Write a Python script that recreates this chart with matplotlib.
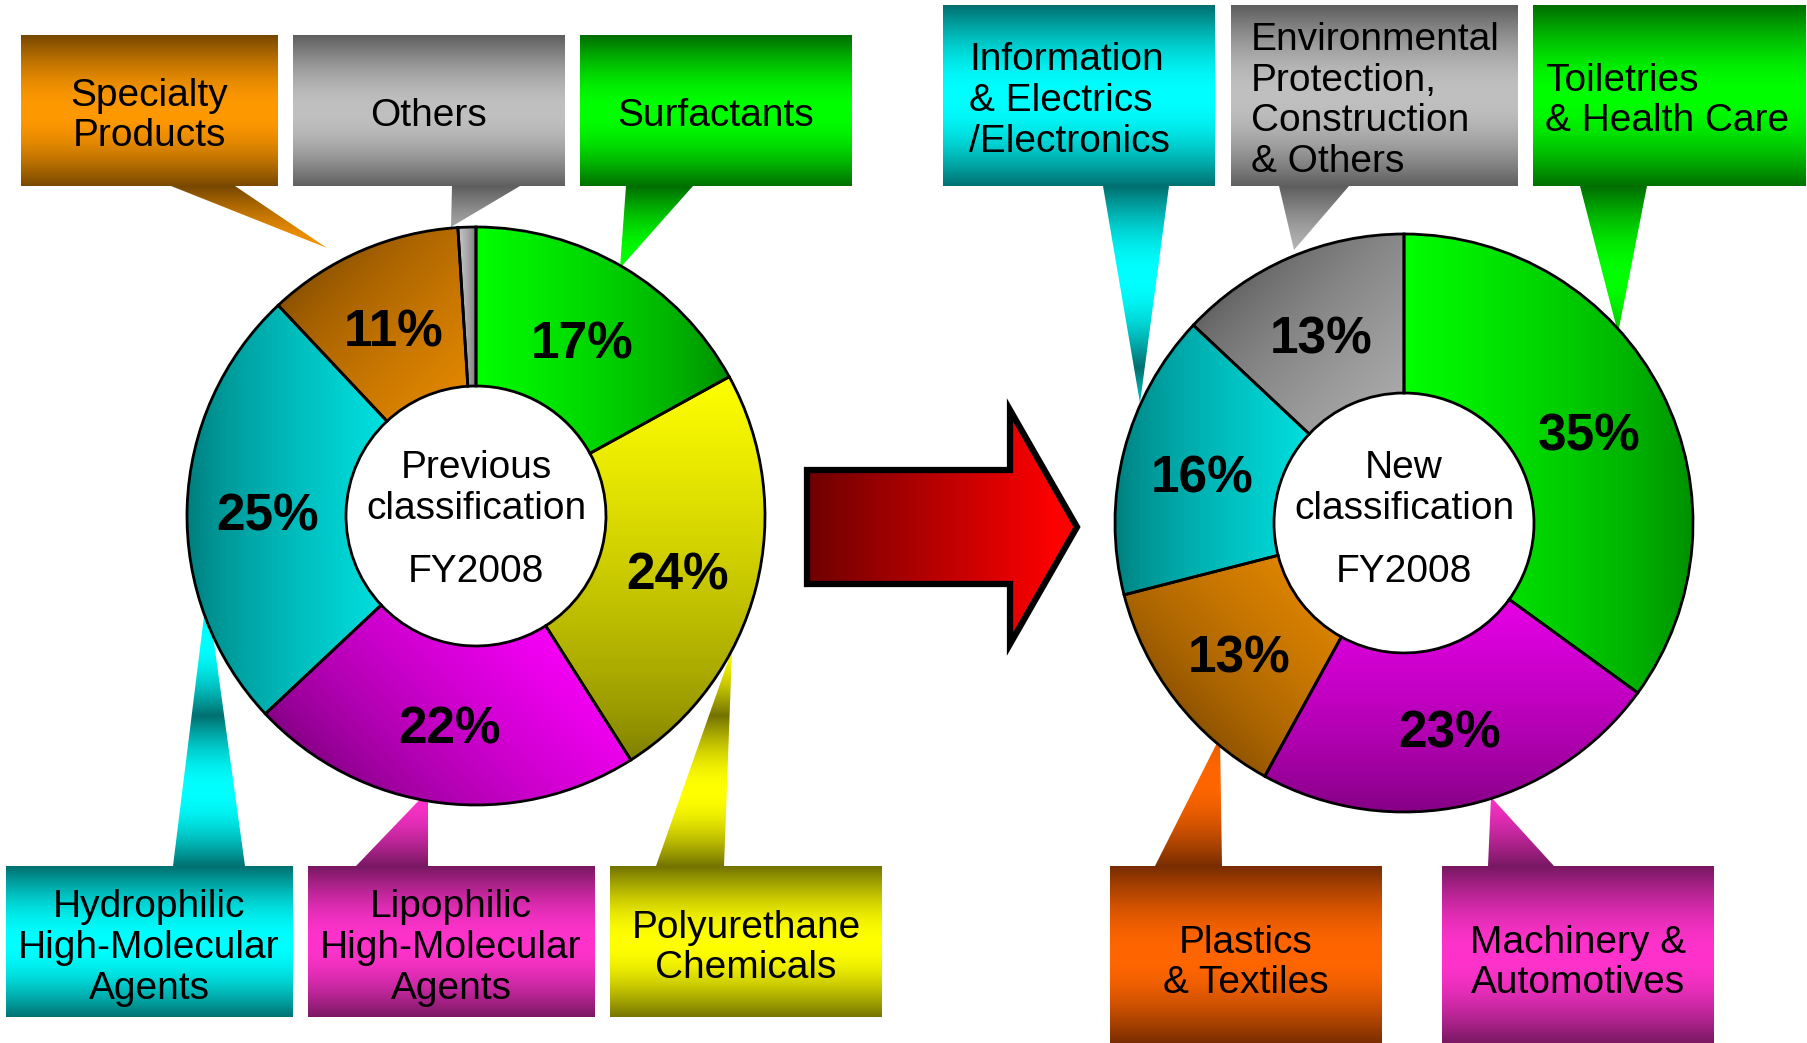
import numpy as np
import matplotlib.pyplot as plt
from matplotlib import font_manager
from matplotlib.patches import Polygon
from matplotlib.colors import to_rgb

plt.rcParams["font.family"] = ["Liberation Sans", "DejaVu Sans"]

installed = {f.name for f in font_manager.fontManager.ttflist}
PCT_FAMILY = "Liberation Sans Narrow" if "Liberation Sans Narrow" in installed else "Liberation Sans"


# =========================
# 1. Data (share of net sales, %)
# =========================

prev_labels = ["Surfactants", "Polyurethane\nChemicals",
               "Lipophilic\nHigh-Molecular\nAgents",
               "Hydrophilic\nHigh-Molecular\nAgents",
               "Specialty\nProducts", "Others"]
prev_values = [17, 24, 22, 25, 11, 1]

new_labels = ["Toiletries\n& Health Care", "Machinery &\nAutomotives",
              "Plastics\n& Textiles",
              "Information\n& Electrics\n/Electronics",
              "Environmental\nProtection,\nConstruction\n& Others"]
new_values = [35, 23, 13, 16, 13]

centre_titles = ["Previous\nclassification", "New\nclassification"]
year_label = "FY2008"


# =========================
# 2. Styles and layout (pixels, y pointing down)
# =========================

W, H = 1808, 1043
R_OUT, R_IN = 289, 130

PREV_CENTER = (476, 516)
NEW_CENTER = (1404, 523)

# (dark, bright, direction of the bright end in degrees)
prev_fill = [("#008800", "#00FF00", 180), ("#7A7A00", "#FFFF00", 90),
             ("#800080", "#FF00FF", 45), ("#007878", "#00FFFF", 0),
             ("#8A5000", "#FF9900", -45), ("#707070", "#C8C8C8", 180)]
new_fill = [("#008800", "#00FF00", 180), ("#780078", "#FF00FF", 90),
            ("#8A5000", "#FF9900", 45), ("#007878", "#00FFFF", 0),
            ("#606060", "#C0C0C0", -45)]

# callout: box (x0, y0, x1, y1), tail base (xa, xb), tail tip, text anchor, dark, bright
prev_callouts = [
    ((580, 35, 852, 186), (626, 693), (620, 268), (716, 116, "center"), "#006E00", "#00FF00"),
    ((610, 866, 882, 1017), (656, 724), (732, 650), (746, 948, "center"), "#737300", "#FFFF00"),
    ((308, 866, 595, 1017), (356, 428), (428, 791), (451, 948, "center"), "#781862", "#FF33CC"),
    ((6, 866, 293, 1017), (173, 245), (207, 592), (149, 948, "center"), "#007070", "#00FFFF"),
    ((21, 35, 278, 186), (171, 235), (327, 248), (149, 116, "center"), "#784800", "#FF9900"),
    ((293, 35, 565, 186), (452, 520), (451, 227), (429, 116, "center"), "#5E5E5E", "#C0C0C0"),
]
new_callouts = [
    ((1533, 5, 1806, 186), (1580, 1647), (1618, 333), (1545, 101, "left"), "#006E00", "#00FF00"),
    ((1442, 866, 1714, 1043), (1488, 1554), (1491, 797), (1578, 963, "center"), "#781862", "#FF33CC"),
    ((1110, 866, 1382, 1043), (1155, 1222), (1220, 737), (1246, 963, "center"), "#782C00", "#FF6600"),
    ((943, 5, 1215, 186), (1103, 1169), (1140, 403), (969, 101, "left"), "#007070", "#00FFFF"),
    ((1231, 5, 1518, 186), (1279, 1349), (1294, 250), (1251, 101, "left"), "#5E5E5E", "#C0C0C0"),
]

ARROW = [(807, 470), (1010, 470), (1010, 410), (1077, 527),
         (1010, 644), (1010, 584), (807, 584)]

BOX_FONT = 28
LINE_SP = 1.17
PCT_FONT = 40 if PCT_FAMILY.endswith("Narrow") else 37
PCT_DROP = 8


# =========================
# 3. Gradient helpers
# =========================

def paint(ax, patch, t_func, dark, bright, z):
    verts = patch.get_path().vertices
    x0, y0 = np.floor(verts.min(axis=0))
    x1, y1 = np.ceil(verts.max(axis=0))
    X, Y = np.meshgrid(np.arange(x0, x1 + 1), np.arange(y0, y1 + 1))
    t = t_func(X, Y)[..., None]
    d, b = np.array(to_rgb(dark)), np.array(to_rgb(bright))
    img = d + (b - d) * t
    im = ax.imshow(img, extent=(x0, x1 + 1, y1 + 1, y0), origin="upper",
                   interpolation="bilinear", zorder=z)
    im.set_clip_path(patch)


def linear_t(verts, angle):
    u = np.array([np.cos(np.radians(angle)), -np.sin(np.radians(angle))])
    proj = verts @ u
    lo, hi = proj.min(), proj.max()
    return lambda X, Y: np.clip((X * u[0] + Y * u[1] - lo) / (hi - lo), 0, 1) ** 0.7


def banded_t(top, height):
    # dark - bright - dark across the box height, repeated along the tail
    return lambda X, Y: np.sin(np.pi * (((Y - top) / height) % 1.0))


def pct_text(p):
    return f"{p:.0f}%" if p >= 2 else ""


# =========================
# 4. Figure
# =========================

fig = plt.figure(figsize=(W / 100, H / 100), dpi=100)
ax = fig.add_axes([0, 0, 1, 1])


def draw_callouts(callouts, labels):
    for (box, base, tip, anchor, dark, bright), label in zip(callouts, labels):
        x0, y0, x1, y1 = box
        xa, xb = base
        if tip[1] > y1:
            pts = [(x0, y0), (x1, y0), (x1, y1), (xb, y1), tip, (xa, y1), (x0, y1)]
        else:
            pts = [(x0, y1), (x0, y0), (xa, y0), tip, (xb, y0), (x1, y0), (x1, y1)]
        shape = Polygon(pts, closed=True, facecolor="none", edgecolor="none", zorder=1)
        ax.add_patch(shape)
        paint(ax, shape, banded_t(y0, y1 - y0), dark, bright, 1)
        tx, ty, ha = anchor
        ax.text(tx, ty, label, ha=ha, va="center", fontsize=BOX_FONT,
                linespacing=LINE_SP, color="black", zorder=5)


def draw_donut(values, fills, center, title):
    wedges, _, pcts = ax.pie(
        values, center=center, radius=R_OUT, startangle=-90, counterclock=True,
        autopct=pct_text, pctdistance=0.72,
        textprops=dict(fontsize=PCT_FONT, fontweight="bold", color="black",
                       family=PCT_FAMILY),
        wedgeprops=dict(width=R_OUT - R_IN, edgecolor="black", linewidth=2),
    )
    for w, (dark, bright, angle) in zip(wedges, fills):
        w.set_facecolor("none")
        w.set_zorder(3)
        paint(ax, w, linear_t(w.get_path().vertices, angle), dark, bright, 2)
    for t in pcts:
        x, y = t.get_position()
        t.set_position((x, y + PCT_DROP))
        t.set_zorder(4)
    # va="baseline" pins the last line of the title
    ax.text(center[0], 519, title, ha="center", va="baseline",
            fontsize=BOX_FONT, linespacing=LINE_SP, zorder=5)
    ax.text(center[0], 582, year_label, ha="center", va="baseline",
            fontsize=BOX_FONT, zorder=5)


draw_callouts(prev_callouts, prev_labels)
draw_callouts(new_callouts, new_labels)
draw_donut(prev_values, prev_fill, PREV_CENTER, centre_titles[0])
draw_donut(new_values, new_fill, NEW_CENTER, centre_titles[1])

# big arrow between the two rings
arrow = Polygon(ARROW, closed=True, facecolor="none", edgecolor="black",
                linewidth=4.5, joinstyle="miter", zorder=3)
ax.add_patch(arrow)
paint(ax, arrow, lambda X, Y: np.clip((X - 807) / 250, 0, 1), "#6E0000", "#FF0000", 2)

ax.set_xlim(0, W)
ax.set_ylim(H, 0)
ax.set_aspect("equal")
ax.axis("off")

fig.savefig("out.png", dpi=100, facecolor="white")
